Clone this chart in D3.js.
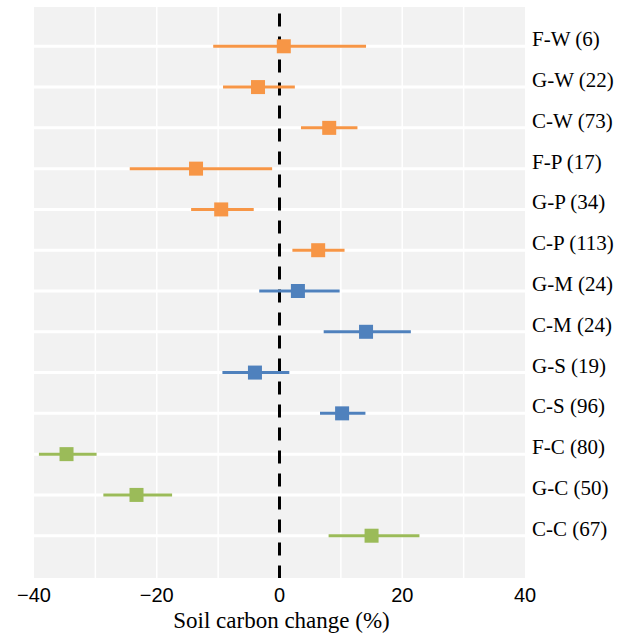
<!DOCTYPE html>
<html>
<head>
<meta charset="utf-8">
<script src="https://cdn.jsdelivr.net/npm/d3@7"></script>
</head>
<body style="margin:0">
<div id="app"></div>
<script>
const categories = ['F-W (6)', 'G-W (22)', 'C-W (73)', 'F-P (17)', 'G-P (34)', 'C-P (113)', 'G-M (24)', 'C-M (24)', 'G-S (19)', 'C-S (96)', 'F-C (80)', 'G-C (50)', 'C-C (67)']
const groups = ['W', 'W', 'W', 'P', 'P', 'P', 'M', 'M', 'S', 'S', 'C', 'C', 'C']
const means = [0.7, -3.5, 8.1, -13.6, -9.5, 6.3, 3.0, 14.1, -4.0, 10.2, -34.7, -23.3, 15.0]
const lower = [-10.8, -9.2, 3.5, -24.4, -14.4, 2.1, -3.3, 7.2, -9.3, 6.6, -39.2, -28.7, 8.0]
const upper = [14.1, 2.5, 12.7, -1.2, -4.2, 10.6, 9.8, 21.4, 1.6, 14.0, -29.8, -17.5, 22.8]
const xTicks = [-40, -20, 0, 20, 40]
const xGrid = [-30, -20, -10, 10, 20, 30]

const data = categories.map((c, i) => ({
    label: c,
    group: groups[i],
    mean: means[i],
    lo: lower[i],
    hi: upper[i]
}))

const colorScale = d3.scaleOrdinal()
    .domain(['W', 'P', 'M', 'S', 'C'])
    .range(['#F79646', '#F79646', '#4F81BD', '#4F81BD', '#9BBB59'])

const width = 627
const height = 639
const margin = {left: 34, top: 7, right: 102, bottom: 61}
const plotRight = width - margin.right
const plotBottom = height - margin.bottom

const svg = d3.select('#app').append('svg')
    .attr('width', width)
    .attr('height', height)

const x = d3.scaleLinear().domain([-40, 40]).range([margin.left, plotRight])
const y = d3.scalePoint().domain(categories).range([margin.top, plotBottom]).padding(1)

svg.append('rect')
    .attr('x', margin.left)
    .attr('y', margin.top)
    .attr('width', plotRight - margin.left)
    .attr('height', plotBottom - margin.top)
    .attr('fill', '#F2F2F2')

// grid
svg.append('g').selectAll('line')
    .data(xGrid).enter().append('line')
    .attr('x1', d => x(d)).attr('x2', d => x(d))
    .attr('y1', margin.top).attr('y2', plotBottom)
    .attr('stroke', '#fff')
    .attr('stroke-width', 1.5)

svg.append('g').selectAll('line')
    .data(categories).enter().append('line')
    .attr('x1', margin.left).attr('x2', plotRight)
    .attr('y1', d => y(d) - 1.5).attr('y2', d => y(d) - 1.5)
    .attr('stroke', '#fff')
    .attr('stroke-width', 3)

// zero line
svg.append('line')
    .attr('x1', x(0)).attr('x2', x(0))
    .attr('y1', margin.top).attr('y2', plotBottom)
    .attr('stroke', '#000')
    .attr('stroke-width', 3)
    .attr('stroke-dasharray', '13,10')
    .attr('stroke-dashoffset', 16.5)

// error bars
svg.append('g').selectAll('line')
    .data(data).enter().append('line')
    .attr('x1', d => x(d.lo)).attr('x2', d => x(d.hi))
    .attr('y1', d => y(d.label) - 1.5).attr('y2', d => y(d.label) - 1.5)
    .attr('stroke', d => colorScale(d.group))
    .attr('stroke-width', 3)

const sq = 14
svg.append('g').selectAll('rect')
    .data(data).enter().append('rect')
    .attr('x', d => x(d.mean) - sq / 2)
    .attr('y', d => y(d.label) - sq / 2 - 1.5)
    .attr('width', sq)
    .attr('height', sq)
    .attr('fill', d => colorScale(d.group))

// category labels
svg.selectAll('text.cat')
    .data(categories).enter().append('text')
    .attr('class', 'cat')
    .attr('x', plotRight + 7)
    .attr('y', d => y(d) - 1.5)
    .attr('font-family', 'Liberation Serif')
    .attr('font-size', 21)
    .text(d => d)

// x axis
svg.selectAll('text.tick')
    .data(xTicks).enter().append('text')
    .attr('class', 'tick')
    .attr('x', d => x(d))
    .attr('y', plotBottom + 24)
    .attr('text-anchor', 'middle')
    .style('font-family', "'Liberation Sans'")
    .style('font-size', '20px')
    .text(d => d < 0 ? '\u2212' + Math.abs(d) : d)

svg.append('text')
    .attr('x', (168 + 395) / 2)
    .attr('y', plotBottom + 50)
    .attr('text-anchor', 'middle')
    .style('font', "23px 'Liberation Serif', serif")
    .text('Soil carbon change (%)')
</script>
</body>
</html>
